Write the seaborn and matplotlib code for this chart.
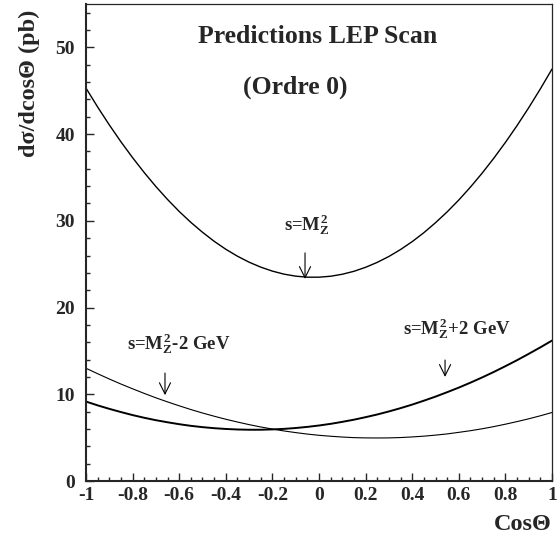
import numpy as np
import pandas as pd
import matplotlib
matplotlib.use("Agg")
import matplotlib.pyplot as plt
import seaborn as sns

# cos(theta) points
cos_theta = [-1.0, -0.95, -0.9, -0.85, -0.8, -0.75, -0.7, -0.65, -0.6, -0.55,
             -0.5, -0.45, -0.4, -0.35, -0.3, -0.25, -0.2, -0.15, -0.1, -0.05,
             0.0, 0.05, 0.1, 0.15, 0.2, 0.25, 0.3, 0.35, 0.4, 0.45,
             0.5, 0.55, 0.6, 0.65, 0.7, 0.75, 0.8, 0.85, 0.9, 0.95, 1.0]

# d sigma / d cos theta (pb)
xs_mz = [45.3, 43.12, 41.06, 39.11, 37.28, 35.56, 33.95, 32.46, 31.08, 29.82,
         28.68, 27.64, 26.72, 25.92, 25.23, 24.66, 24.20, 23.85, 23.62, 23.50,
         23.5, 23.61, 23.84, 24.18, 24.64, 25.21, 25.89, 26.69, 27.60, 28.63,
         29.78, 31.03, 32.40, 33.89, 35.49, 37.21, 39.04, 40.98, 43.04, 45.21, 47.5]
xs_minus2 = [13.0, 12.37, 11.76, 11.18, 10.63, 10.10, 9.59, 9.12, 8.67, 8.24,
             7.84, 7.47, 7.12, 6.80, 6.50, 6.23, 5.99, 5.77, 5.58, 5.41,
             5.27, 5.16, 5.07, 5.00, 4.97, 4.96, 4.97, 5.01, 5.08, 5.17,
             5.29, 5.43, 5.61, 5.80, 6.02, 6.27, 6.55, 6.85, 7.17, 7.52, 7.9]
xs_plus2 = [9.16, 8.72, 8.32, 7.95, 7.60, 7.29, 7.01, 6.77, 6.55, 6.36,
            6.21, 6.09, 6.00, 5.94, 5.91, 5.91, 5.95, 6.01, 6.11, 6.24,
            6.4, 6.59, 6.82, 7.07, 7.36, 7.67, 8.02, 8.40, 8.81, 9.26,
            9.73, 10.24, 10.77, 11.34, 11.94, 12.57, 13.24, 13.93, 14.66, 15.41, 16.19]

n = len(cos_theta)
df = pd.DataFrame({
    "cos": cos_theta * 3,
    "xs": xs_mz + xs_minus2 + xs_plus2,
    "scan": ["mz"] * n + ["minus2"] * n + ["plus2"] * n,
})

sns.set_style("ticks")
plt.rcParams["font.family"] = ["Liberation Serif", "DejaVu Serif"]
plt.rcParams["font.weight"] = "bold"
plt.rcParams["mathtext.fontset"] = "custom"
plt.rcParams["mathtext.rm"] = "Liberation Serif:bold"
plt.rcParams["mathtext.it"] = "Liberation Serif:bold"
plt.rcParams["mathtext.bf"] = "Liberation Serif:bold"
plt.rcParams["axes.unicode_minus"] = False

fig = plt.figure(figsize=(5.6, 5.43), dpi=100)
ax = fig.add_axes([86 / 560, 62 / 543, 466 / 560, 477 / 543])

widths = {"mz": 1.0, "minus2": 0.8, "plus2": 1.4}
for name, sub in df.groupby("scan"):
    sns.lineplot(data=sub, x="cos", y="xs", ax=ax, color="black",
                 linewidth=widths[name], legend=False)

ax.set_xlim(-1, 1)
ax.set_ylim(0, 55)
ax.set_xticks(np.arange(-1, 1.01, 0.2))
ax.set_xticks(np.arange(-1, 1.01, 0.05), minor=True)
ax.set_yticks(np.arange(0, 51, 10))
ax.set_yticks(np.arange(0, 55, 2), minor=True)
ax.set_xticklabels(["-1", "-0.8", "-0.6", "-0.4", "-0.2", "0", "0.2", "0.4", "0.6", "0.8", "1"])
ax.tick_params(which="both", direction="in", top=False, right=False, labelsize=14, width=1.0)
ax.tick_params(axis="x", which="major", length=6, pad=4)
ax.tick_params(axis="y", which="major", length=6, pad=8)
ax.tick_params(which="minor", length=3)
for lab in ax.get_xticklabels() + ax.get_yticklabels():
    lab.set_fontweight("bold")

for side in ["left", "bottom"]:
    ax.spines[side].set_linewidth(1.5)
for side in ["top", "right"]:
    ax.spines[side].set_linewidth(0.9)

ax.set_xlabel("")
ax.set_ylabel("")
fig.text(29 / 560, 1 - 83 / 543, "dσ/dcosΘ (pb)", rotation=90, ha="center", va="center",
         fontsize=17.5, fontweight="bold")
fig.text(552 / 560, 1 - 524 / 543, "CosΘ", ha="right", va="center",
         fontsize=17.5, fontweight="bold")

ax.text(-0.004, 51.3, "Predictions LEP Scan", ha="center", va="center",
        fontsize=18.5, fontweight="bold")
ax.text(-0.103, 45.4, "(Ordre 0)", ha="center", va="center",
        fontsize=18.5, fontweight="bold")

# annotations with arrows
labels = [r"s=$M_Z^2$", r"s=$M_Z^2$-2 GeV", r"s=$M_Z^2$+2 GeV"]
label_pos = [(-0.054, 29.5), (-0.60, 15.8), (0.594, 17.6)]
arrow_x = [-0.06, -0.661, 0.541]
arrow_y = [(26.3, 23.3), (12.45, 9.9), (13.95, 12.0)]
for lab, (tx, ty), axx, (y0, y1) in zip(labels, label_pos, arrow_x, arrow_y):
    ax.text(tx, ty, lab, ha="center", va="center", fontsize=13.5, fontweight="bold")
    ax.annotate("", xy=(axx, y1), xytext=(axx, y0),
                arrowprops=dict(arrowstyle="->", color="black", lw=0.8,
                                mutation_scale=20, shrinkA=0, shrinkB=0))

fig.savefig("out.png", dpi=100)
